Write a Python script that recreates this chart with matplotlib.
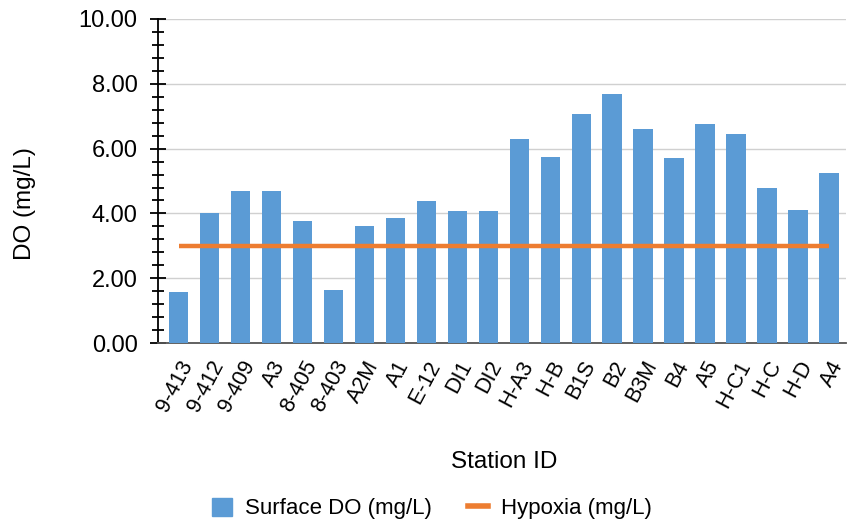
import matplotlib
matplotlib.use('Agg')
import matplotlib.pyplot as plt
from matplotlib.ticker import MultipleLocator
from matplotlib.lines import Line2D
from matplotlib.patches import Patch

plt.rcParams['font.family'] = ['Liberation Sans', 'DejaVu Sans']

# station data
stations = ['9-413', '9-412', '9-409', 'A3', '8-405', '8-403', 'A2M', 'A1', 'E-12',
            'DI1', 'DI2', 'H-A3', 'H-B', 'B1S', 'B2', 'B3M', 'B4', 'A5', 'H-C1',
            'H-C', 'H-D', 'A4']
surface_do = [1.57, 4.01, 4.69, 4.69, 3.77, 1.63, 3.61, 3.87, 4.38, 4.08, 4.08,
              6.30, 5.74, 7.07, 7.69, 6.62, 5.71, 6.77, 6.46, 4.78, 4.12, 5.25]
hypoxia = [3.0] * len(stations)

BLUE = '#5B9BD5'
ORANGE = '#ED7D31'

fig = plt.figure(figsize=(8.47, 5.27), dpi=100)
ax = fig.add_axes([0.187, 0.349, 0.812, 0.615])

x = list(range(len(stations)))
ax.bar(x, surface_do, width=0.63, color=BLUE, zorder=3)
ax.plot(x, hypoxia, color=ORANGE, linewidth=3.2, solid_capstyle='butt', zorder=4)

ax.set_ylim(0, 10)
ax.set_xlim(-0.65, len(stations) - 0.45)
ax.yaxis.set_major_locator(MultipleLocator(2))
ax.yaxis.set_minor_locator(MultipleLocator(0.4))
ax.set_yticklabels([f'{v:.2f}' for v in ax.get_yticks()])
ax.grid(axis='y', color='#d0d0d0', linewidth=1, zorder=0)

ax.tick_params(axis='y', which='major', direction='inout', length=12, width=1.3,
               labelsize=17, colors='black', pad=9)
ax.tick_params(axis='y', which='minor', direction='inout', length=8, width=1.3)
ax.tick_params(axis='x', length=0, labelsize=15.5, pad=10)
ax.set_xticks(x)
ax.set_xticklabels(stations, rotation=62, ha='right', rotation_mode='anchor')

for s in ['top', 'right']:
    ax.spines[s].set_visible(False)
ax.spines['left'].set_linewidth(1.3)
ax.spines['bottom'].set_color('#555555')
ax.spines['bottom'].set_linewidth(1.3)

fig.text(0.030, 0.613, 'DO (mg/L)', rotation=90, ha='center', va='center', fontsize=17.5)
fig.text(0.595, 0.123, 'Station ID', ha='center', va='center', fontsize=17.5)

handles = [Patch(color=BLUE), Line2D([0], [0], color=ORANGE, linewidth=4)]
fig.legend(handles, ['Surface DO (mg/L)', 'Hypoxia (mg/L)'], loc='center',
           bbox_to_anchor=(0.51, 0.035), ncol=2, frameon=False, fontsize=16,
           handlelength=0.9, handleheight=0.9, columnspacing=1.6, handletextpad=0.6)

fig.savefig('out.png', dpi=100)
